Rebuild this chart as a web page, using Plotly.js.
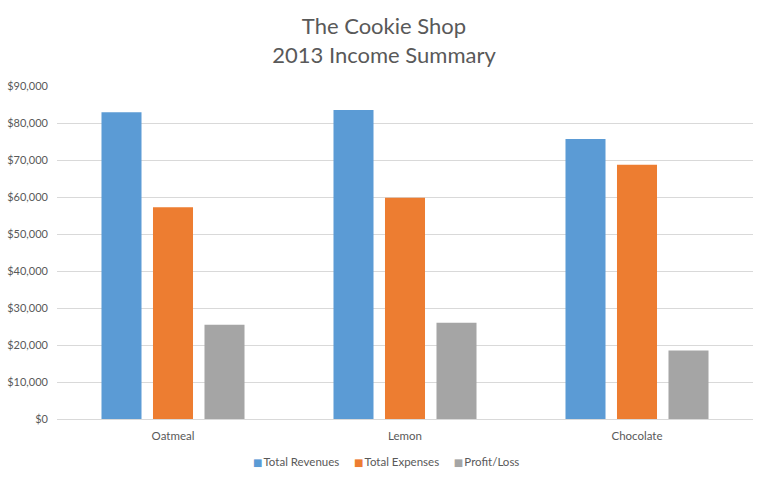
<!DOCTYPE html>
<html>
<head>
<meta charset="utf-8">
<script src="https://cdn.plot.ly/plotly-3.0.1.min.js"></script>
<style>html,body{margin:0;padding:0;background:#fff}#chart{width:768px;height:483px}</style>
</head>
<body>
<div id="chart"></div>
<script>
const categories = ["Oatmeal", "Lemon", "Chocolate"];
const totalRevenues = [82900, 83500, 75700];
const totalExpenses = [57200, 59800, 68700];
const profitLoss = [25500, 26000, 18500];
const seriesNames = ["Total Revenues", "Total Expenses", "Profit/Loss"];
const tickValues = [0, 10000, 20000, 30000, 40000, 50000, 60000, 70000, 80000, 90000];
const tickLabels = ["$0", "$10,000", "$20,000", "$30,000", "$40,000", "$50,000", "$60,000", "$70,000", "$80,000", "$90,000"];

const colors = ["#5B9BD5", "#ED7D31", "#A5A5A5"];
const vals = [totalRevenues, totalExpenses, profitLoss];
const traces = vals.map((v, i) => ({
  type: "bar", x: categories, y: v, name: seriesNames[i],
  marker: {color: colors[i]}, hoverinfo: "none", showlegend: false
}));
const font = "Lato, 'Open Sans', sans-serif";
const legendText = seriesNames.map((n, i) =>
  `<span style="color:${colors[i]};font-family:'DejaVu Sans';font-size:10px">■</span><span style="font-size:4px"> </span>${n}`).join("     ");
Plotly.newPlot("chart", traces, {
  width: 768, height: 483,
  margin: {l: 57, r: 15, t: 86, b: 63.5, autoexpand: false},
  paper_bgcolor: "#fff", plot_bgcolor: "#fff",
  font: {family: font, color: "#595959", size: 11},
  title: {text: "The Cookie Shop<br>2013 Income Summary", font: {size: 22, color: "#595959", family: font},
    x: 0.5, xanchor: "center", yref: "container", y: 1 - 34 / 483, yanchor: "middle"},
  barmode: "group", bargap: 0.334, bargroupgap: 0.223,
  xaxis: {showgrid: false, showline: true, linecolor: "#D9D9D9", ticks: "", ticklabelstandoff: 6,
    tickfont: {size: 11.5, color: "#595959"}},
  yaxis: {range: [0, 90000], tickvals: tickValues, ticktext: tickLabels, gridcolor: "#D9D9D9",
    zeroline: false, showline: false, ticks: "", ticklabelstandoff: 8,
    tickfont: {size: 11, color: "#595959"}, fixedrange: true},
  showlegend: false,
  annotations: [{xref: "paper", yref: "paper", x: (386 - 57) / 696, y: -(462 - 419.5) / 333.5,
    xanchor: "center", yanchor: "middle", showarrow: false, text: legendText,
    font: {size: 11.5, color: "#595959", family: font}}]
}, {displayModeBar: false, staticPlot: true});
</script>
</body>
</html>
